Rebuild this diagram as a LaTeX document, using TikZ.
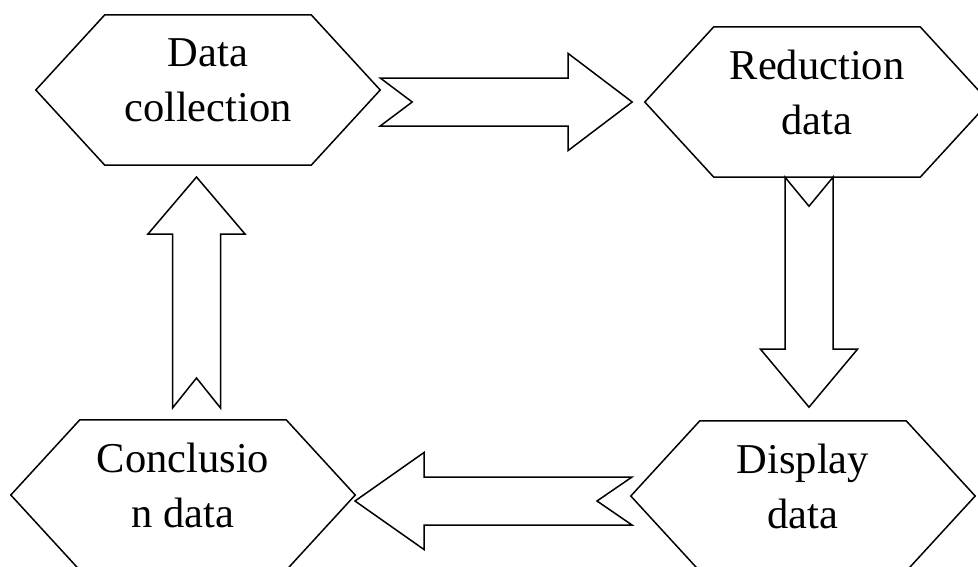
\documentclass[tikz,border=0pt]{standalone}
\usepackage{fontspec}
\setmainfont{Liberation Serif}
\begin{document}
\begin{tikzpicture}[x=1pt,y=-1pt,
  hexbox/.style={minimum width=344pt,minimum height=150pt,inner sep=0pt},
  hexline/.style={draw=black,line width=1.5pt,line join=miter},
  lbl/.style={align=center,inner sep=0pt,font=\fontsize{42.5}{55}\selectfont},
  arr/.style={draw=black,line width=1.5pt,fill=white,line join=miter},
  pics/notcharrow/.style n args={3}{code={
    \draw[arr] (0,-24) -- (#1-#3,-24) -- (#1-#3,-48.5) -- (#1,0) -- (#1-#3,48.5)
      -- (#1-#3,24) -- (0,24) -- (#2,0) -- cycle;}}]
\clip (0,0) rectangle (978,566);
\newcommand{\hexframe}[1]{\draw[hexline] (#1.west) -- ([xshift=69pt]#1.north west)
  -- ([xshift=-69pt]#1.north east) -- (#1.east) -- ([xshift=-69pt]#1.south east)
  -- ([xshift=69pt]#1.south west) -- cycle;}
% hexagons
\node[hexbox] (dc) at (208,90) {};
\node[hexbox] (rd) at (817,102) {};
\node[hexbox] (cd) at (183,495) {};
\node[hexbox] (dd) at (803,496) {};
\hexframe{dc}\hexframe{rd}\hexframe{cd}\hexframe{dd}
\node[lbl] (dct) at ([yshift=10pt]dc.center) {Data\\collection};
\node[lbl] (rdt) at ([yshift=10pt]rd.center) {Reduction\\data};
\node[lbl] (cdt) at ([yshift=10pt]cd.center) {Conclusio\\n data};
\node[lbl] (ddt) at ([yshift=10pt]dd.center) {Display\\data};
% block arrows
\pic (a1) at (dc.east |- rd.center) {notcharrow={252}{32}{64}};
\pic[rotate=-90] (a2) at (rd.south -| 809,0) {notcharrow={230}{29}{58}};
\pic[rotate=180] (a3) at (632,501) {notcharrow={277}{35}{69}};
\pic[rotate=90] (a4) at (196.5,408) {notcharrow={231}{30}{57}};
\end{tikzpicture}
\end{document}
